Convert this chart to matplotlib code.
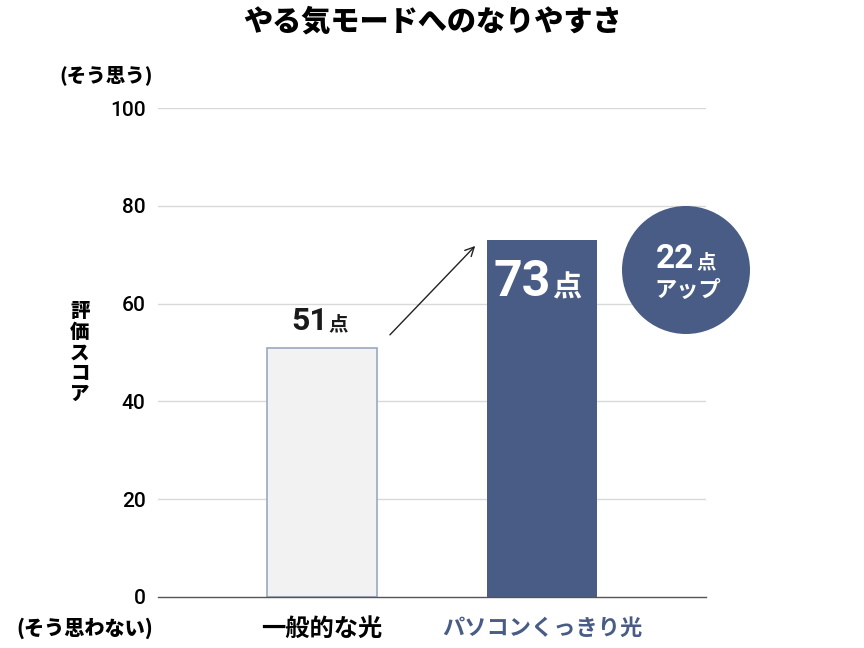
import matplotlib
matplotlib.use("Agg")
import matplotlib.pyplot as plt
from matplotlib.patches import Circle, FancyArrowPatch
from matplotlib.transforms import IdentityTransform

plt.rcParams['font.family'] = ['Noto Sans CJK JP', 'DejaVu Sans']

title = "やる気モードへのなりやすさ"
categories = ["一般的な光", "パソコンくっきり光"]
values = [51, 73]
yticks = [0, 20, 40, 60, 80, 100]
diff = values[1] - values[0]

navy = "#485c85"
fig = plt.figure(figsize=(8.64, 6.48), dpi=100)
ax = fig.add_axes([158/864, 51/648, 548/864, 489/648])

x = list(range(len(categories)))
ax.bar(x[0], values[0], width=0.5, color="#f2f2f2", edgecolor="#9aa8bf", linewidth=1.2, zorder=3)
ax.bar(x[1], values[1], width=0.5, color=navy, edgecolor=navy, linewidth=0, zorder=3)

ax.set_xlim(-0.745, 1.745)
ax.set_ylim(0, 100)
ax.set_yticks(yticks)
ax.set_yticklabels([str(v) for v in yticks], fontsize=15, fontweight='medium', family=['Roboto', 'DejaVu Sans'])
ax.tick_params(axis='y', length=0, pad=9)
ax.tick_params(axis='x', length=0, pad=14)
ax.set_xticks(x)
ax.set_xticklabels(categories, fontsize=17.5, fontweight='bold')
ax.get_xticklabels()[1].set_color(navy)
ax.get_xticklabels()[1].set_fontsize(16)
for v in yticks[1:]:
    ax.axhline(v, color="#d9d9d9", linewidth=1, zorder=1)
for s in ['top', 'right', 'left']:
    ax.spines[s].set_visible(False)
ax.spines['bottom'].set_color("#555555")
ax.spines['bottom'].set_linewidth(1)
ax.spines['bottom'].set_zorder(4)

# value labels
ax.text(x[0] + 0.028, values[0] + 3.5, str(values[0]), ha='right', va='baseline', fontsize=23,
        fontweight='bold', color='#1a1a1a', family=['Roboto', 'DejaVu Sans'])
ax.text(x[0] + 0.03, values[0] + 3.5, "点", ha='left', va='baseline', fontsize=14,
        fontweight='bold', color='#1a1a1a')
ax.text(x[1] + 0.04, values[1] - 11.5, str(values[1]), ha='right', va='baseline', fontsize=36,
        fontweight='bold', color='white', family=['Roboto', 'DejaVu Sans'])
ax.text(x[1] + 0.045, values[1] - 11.5, "点", ha='left', va='baseline', fontsize=21,
        fontweight='bold', color='white')

# arrow
arr = FancyArrowPatch((0.30, values[0] + 2.2), (0.705, values[1] - 0.8), arrowstyle='->',
                      mutation_scale=16, color='#222222', linewidth=1, zorder=5)
ax.add_patch(arr)

# circle badge
circ = Circle((686, 648 - 270), 64, transform=IdentityTransform(), facecolor=navy,
              edgecolor='none', zorder=5)
fig.add_artist(circ)
fig.text(694/864, 1 - 268/648, str(diff), ha='right', va='baseline', fontsize=24,
         fontweight='bold', color='white', family=['Roboto', 'DejaVu Sans'], zorder=7)
fig.text(696/864, 1 - 268/648, "点", ha='left', va='baseline', fontsize=14,
         fontweight='bold', color='white', zorder=7)
fig.text(688/864, 1 - 290/648, "アップ", ha='center', va='center', fontsize=16,
         fontweight='bold', color='white', zorder=7)

# labels
fig.text(433/864, 1 - 22/648, title, ha='center', va='center', fontsize=21, fontweight='heavy')
fig.text(153/864, 1 - 75/648, "(そう思う)", ha='right', va='center', fontsize=14, fontweight='heavy')
fig.text(153/864, 1 - 628/648, "(そう思わない)", ha='right', va='center', fontsize=14.5, fontweight='heavy')
fig.text(80/864, 1 - 353/648, "\n".join("評価スコア"), ha='center', va='center', fontsize=14,
         fontweight='heavy', linespacing=1.12)

fig.savefig("out.png", dpi=100)
